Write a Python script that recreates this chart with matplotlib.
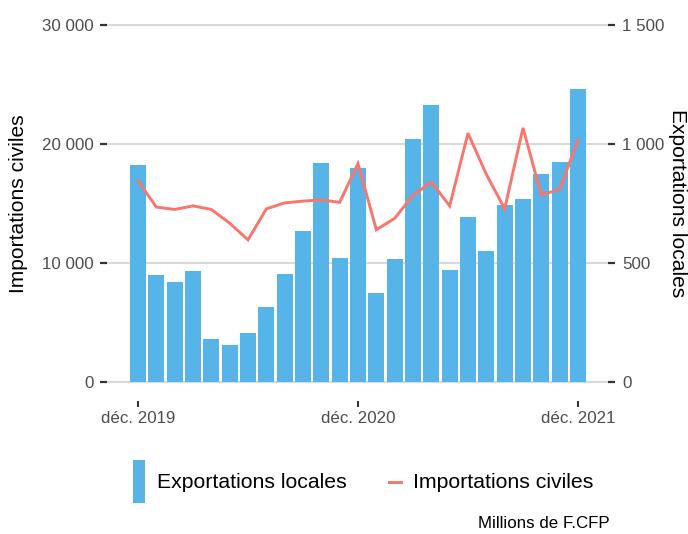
import matplotlib
matplotlib.use("Agg")
import matplotlib.pyplot as plt
from matplotlib.patches import Patch
from matplotlib.lines import Line2D
from matplotlib.legend_handler import HandlerLine2D
from matplotlib.ticker import FuncFormatter, FixedLocator

plt.rcParams['font.family'] = ['Liberation Sans', 'DejaVu Sans']

# Months: déc. 2019 .. déc. 2021 (25 months)
months = ['2019-12', '2020-01', '2020-02', '2020-03', '2020-04', '2020-05', '2020-06',
          '2020-07', '2020-08', '2020-09', '2020-10', '2020-11', '2020-12',
          '2021-01', '2021-02', '2021-03', '2021-04', '2021-05', '2021-06',
          '2021-07', '2021-08', '2021-09', '2021-10', '2021-11', '2021-12']

# Exportations locales (right axis, bars)
exportations = [911, 450, 421, 467, 182, 157, 207, 316, 454, 635, 920, 521, 899,
                375, 517, 1021, 1163, 471, 693, 551, 744, 769, 874, 924, 1230]

# Importations civiles (left axis, line)
importations = [16900, 14700, 14500, 14800, 14500, 13350, 11950, 14550, 15050, 15200,
                15300, 15100, 18350, 12800, 13750, 15700, 16800, 14800, 20900, 17450,
                14550, 21350, 15700, 16200, 20300]

xtick_pos = [0, 12, 24]
xtick_labels = ['déc. 2019', 'déc. 2020', 'déc. 2021']
left_ticks = [0, 10000, 20000, 30000]
right_ticks = [0, 500, 1000, 1500]

BLUE = '#56B4E9'
RED = '#F8766D'
W, H = 688, 534
fig = plt.figure(figsize=(W / 100, H / 100), dpi=100)

# axes in pixel coords
ax_left_px, ax_right_px = 107, 608
ax_top_px, ax_bot_px = 15, 392
ax = fig.add_axes([ax_left_px / W, 1 - ax_bot_px / H,
                   (ax_right_px - ax_left_px) / W, (ax_bot_px - ax_top_px) / H])
ax2 = ax.twinx()

# scale: 0 at y=382.3, 30000 at y=24.7
y0_px, y30_px = 382.3, 24.7
per_px = 30000 / (y0_px - y30_px)
ylo = -(ax_bot_px - y0_px) * per_px
yhi = 30000 + (y30_px - ax_top_px) * per_px
ax.set_ylim(ylo, yhi)
ax2.set_ylim(ylo / 20, yhi / 20)

x = list(range(len(months)))
step = 18.333
ax.set_xlim(-(138 - ax_left_px) / step, (ax_right_px - 138) / step)

ax2.bar(x, exportations, width=0.873, color=BLUE, zorder=2)
ax.plot(x, importations, color=RED, lw=2.1, solid_joinstyle='miter', zorder=3)

ax.set_zorder(2)
ax2.set_zorder(1)
ax.patch.set_visible(False)

# grid on bottom axes
ax2.yaxis.set_major_locator(FixedLocator(right_ticks))
ax2.set_axisbelow(True)
ax2.grid(axis='y', color='#d9d9d9', lw=1.5)
ax2.grid(axis='x', visible=False)
ax.grid(False)

fmt = FuncFormatter(lambda v, p: '{:,}'.format(int(v)).replace(',', ' '))
ax.yaxis.set_major_locator(FixedLocator(left_ticks))
ax.yaxis.set_major_formatter(fmt)
ax2.yaxis.set_major_formatter(fmt)

ax.set_xticks(xtick_pos)
ax.set_xticklabels(xtick_labels)

for a in (ax, ax2):
    for s in a.spines.values():
        s.set_visible(False)
ax.spines['bottom'].set_position(('outward', 6.5))

ax.tick_params(axis='x', direction='out', length=4.3, width=1.5, color='#333333',
               labelsize=12.2, labelcolor='#4d4d4d', pad=3)
ax.tick_params(axis='y', direction='out', length=5, width=1.6, color='#333333',
               labelsize=12.2, labelcolor='#4d4d4d', pad=4.3)
ax2.tick_params(axis='y', direction='out', length=5, width=1.6, color='#333333',
                labelsize=12.2, labelcolor='#4d4d4d', pad=5)

fig.text(18.5 / W, 1 - 203.5 / H, 'Importations civiles', rotation=90,
         ha='center', va='center', fontsize=15.1, color='black')
fig.text(677 / W, 1 - 203.5 / H, 'Exportations locales', rotation=270,
         ha='center', va='center', fontsize=15.1, color='black')


class CenteredLine(HandlerLine2D):
    def create_artists(self, legend, orig_handle, xdescent, ydescent, width,
                       height, fontsize, trans):
        arts = super().create_artists(legend, orig_handle, xdescent, ydescent,
                                      width, height, fontsize, trans)
        yc = height / 2 - ydescent
        for a in arts:
            if isinstance(a, Line2D):
                a.set_ydata([yc] * len(a.get_xdata()))
        return arts


line_handle = Line2D([], [], color=RED, lw=2.1)
handles = [Patch(facecolor=BLUE, edgecolor='none'), line_handle]
fig.legend(handles, ['Exportations locales', 'Importations civiles'], ncol=2,
           frameon=False, fontsize=15.3, handlelength=0.56, handleheight=2.73,
           handletextpad=0.56, columnspacing=2.0, borderpad=0, borderaxespad=0,
           loc='center left', bbox_to_anchor=(133 / W, 1 - 481.5 / H),
           handler_map={line_handle: CenteredLine()})

fig.text(610 / W, 1 - 524 / H, 'Millions de F.CFP', ha='right', va='center',
         fontsize=12.2, color='black')

fig.savefig('out.png', dpi=100)
